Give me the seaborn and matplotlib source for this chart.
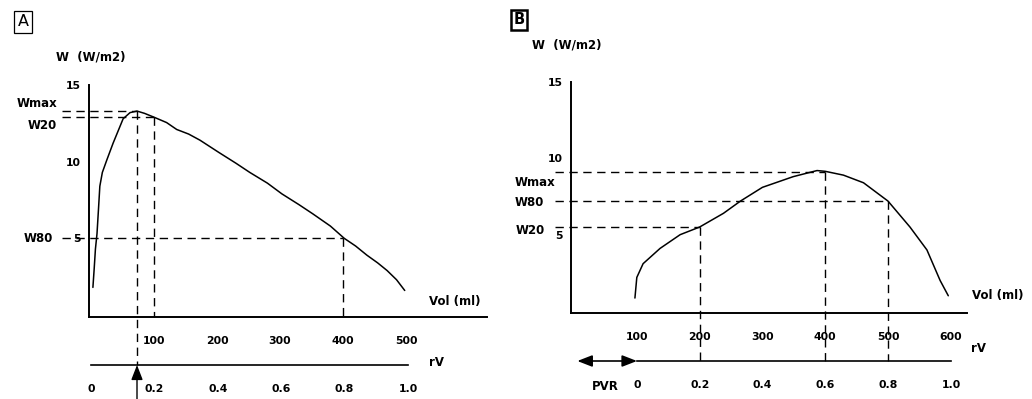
import numpy as np
import pandas as pd
import seaborn as sns
import matplotlib.pyplot as plt

sns.set_style("white")
plt.rcParams['font.family'] = ['DejaVu Sans']
plt.rcParams['text.color'] = 'black'
plt.rcParams['xtick.color'] = 'black'
plt.rcParams['ytick.color'] = 'black'
plt.rcParams['xtick.labelcolor'] = 'black'
plt.rcParams['ytick.labelcolor'] = 'black'

# ---------------- data ----------------
# Panel A : work W (W/m2) vs volume (ml)
vol_a = [3, 5, 7, 9.5, 12, 14, 18, 25, 35, 51, 62, 73, 85, 100, 120, 136, 155,
         173, 203, 230, 252, 280, 303, 330, 352, 380, 402, 420, 438, 455, 470, 485, 498]
w_a = [1.8, 3.0, 4.3, 5.3, 7.0, 8.4, 9.3, 10.1, 11.2, 12.8, 13.2, 13.3, 13.15, 12.9,
       12.55, 12.1, 11.8, 11.4, 10.6, 9.9, 9.3, 8.6, 7.9, 7.2, 6.6, 5.8, 5.0, 4.5,
       3.9, 3.4, 2.9, 2.3, 1.6]
# reference points A
refA_vol = [73, 100, 400]          # Wmax, W20, W80 volumes
refA_w = [13.3, 12.9, 5.0]
refA_lab = ["Wmax", "W20", "W80"]
vticks_a = [100, 200, 300, 400, 500, 600]
vlabels_a = ["100", "200", "300", "400", "500", ""]

# Panel B
vol_b = [97, 100, 110, 137, 169, 200, 238, 265, 300, 349, 387, 400, 429, 461,
         500, 535, 562, 583, 596]
w_b = [0.85, 2.2, 3.1, 4.1, 5.0, 5.5, 6.4, 7.2, 8.1, 8.8, 9.2, 9.15, 8.9, 8.4,
       7.2, 5.5, 4.0, 2.0, 1.0]
refB_vol = [400, 500, 200]         # Wmax, W80, W20
refB_w = [9.1, 7.2, 5.5]
refB_lab = ["Wmax", "W80", "W20"]
vticks_b = [100, 200, 300, 400, 500, 600]

rv_ticks = [0, 0.2, 0.4, 0.6, 0.8, 1.0]
rv_labels = ["0", "0.2", "0.4", "0.6", "0.8", "1.0"]
yticks = [5, 10, 15]

# ---------------- layout ----------------
W, H = 1032, 399
fig = plt.figure(figsize=(W / 100, H / 100), dpi=100)


def px_ax(l, t, r, b):
    return fig.add_axes([l / W, 1 - b / H, (r - l) / W, (b - t) / H])


LW = 1.1
AXLW = 1.4
DASH = (6, 4)
TF = dict(fontsize=7.8, fontweight="bold")
LF = dict(fontsize=8.5, fontweight="bold")


def style_main(ax, xlim, xt, xl):
    ax.set_xlim(*xlim)
    ax.set_ylim(-0.13, 15)
    for s in ["top", "right"]:
        ax.spines[s].set_visible(False)
    for s in ["left", "bottom"]:
        ax.spines[s].set_linewidth(AXLW)
        ax.spines[s].set_color("black")
    ax.set_xticks(xt)
    ax.set_xticklabels(xl, **TF)
    ax.set_yticks(yticks)
    ax.set_yticklabels([str(v) for v in yticks], **TF)
    ax.tick_params(axis="x", direction="out", length=4, width=1.2, pad=10)
    ax.tick_params(axis="y", direction="out", length=3, width=1.0, pad=3)
    ax.set_xlabel("")
    ax.set_ylabel("")
    ax.patch.set_alpha(0)


def style_rv(ax):
    ax.set_xlim(0, 1)
    ax.set_ylim(0, 1)
    for s in ["top", "right", "left"]:
        ax.spines[s].set_visible(False)
    ax.spines["bottom"].set_linewidth(1.2)
    ax.spines["bottom"].set_color("black")
    ax.set_yticks([])
    ax.set_xticks(rv_ticks)
    ax.set_xticklabels(rv_labels, **TF)
    ax.tick_params(axis="x", direction="inout", length=8, width=1.2, pad=10)
    ax.patch.set_alpha(0)


# ======== Panel A ========
axA = px_ax(89, 85, 487, 317)
sns.lineplot(x=vol_a, y=w_a, ax=axA, color="black", lw=LW, sort=False, estimator=None)
style_main(axA, (-3.2, 628.6), vticks_a, vlabels_a)

y_rvA = -3.26
for v, w, lab in zip(refA_vol, refA_w, refA_lab):
    axA.plot([-46, v], [w, w], color="black", lw=1.0, dashes=DASH, clip_on=False)
    ybot = y_rvA if lab == "Wmax" else -0.13
    axA.plot([v, v], [w, ybot], color="black", lw=1.0, dashes=DASH, clip_on=False)

axA.text(-54, 13.8, "Wmax", ha="right", va="center", **LF)
axA.text(-54, 12.35, "W20", ha="right", va="center", **LF)
axA.text(-60, 4.96, "W80", ha="right", va="center", **LF)
axA.text(578, 0.85, "Vol (ml)", ha="center", va="center", **LF)
axA.annotate("", xy=(refA_vol[0], y_rvA), xytext=(refA_vol[0], -5.6),
             arrowprops=dict(arrowstyle="-|>,head_length=0.9,head_width=0.35",
                             color="black", lw=1.0, shrinkA=0, shrinkB=0),
             annotation_clip=False)

rvA = px_ax(91, 345, 408, 365)
style_rv(rvA)
fig.text(437 / W, 1 - 363 / H, "rV", ha="center", va="center", **LF)

fig.text(23 / W, 1 - 22 / H, "A", ha="center", va="center", fontsize=11.5,
         bbox=dict(boxstyle="square,pad=0.22", fc="white", ec="black", lw=0.9))
fig.text(91 / W, 1 - 57 / H, "W  (W/m2)", ha="center", va="center", **LF)

# ======== Panel B ========
axB = px_ax(571, 82, 967, 313)
sns.lineplot(x=vol_b, y=w_b, ax=axB, color="black", lw=LW, sort=False, estimator=None)
style_main(axB, (-4.8, 625.8), vticks_b, [str(v) for v in vticks_b])

y_rvB = -3.27
for v, w, lab in zip(refB_vol, refB_w, refB_lab):
    axB.plot([-30, v], [w, w], color="black", lw=1.0, dashes=DASH, clip_on=False)
    axB.plot([v, v], [w, y_rvB], color="black", lw=1.0, dashes=DASH, clip_on=False)

axB.text(-30, 8.45, "Wmax", ha="right", va="center", **LF)
axB.text(-48, 7.14, "W80", ha="right", va="center", **LF)
axB.text(-46, 5.3, "W20", ha="right", va="center", **LF)
axB.text(675, 1.0, "Vol (ml)", ha="center", va="center", **LF)

rvB = px_ax(637, 341, 951, 361)
style_rv(rvB)
rvB.annotate("", xy=(-0.19, 0), xytext=(0, 0),
             arrowprops=dict(arrowstyle="<|-|>,head_length=0.9,head_width=0.35",
                             color="black", lw=1.2, shrinkA=0, shrinkB=0),
             annotation_clip=False)
rvB.text(-0.10, -1.3, "PVR", ha="center", va="center", **LF)
fig.text(979 / W, 1 - 348 / H, "rV", ha="center", va="center", **LF)

fig.text(519 / W, 1 - 20 / H, "B", ha="center", va="center", fontsize=10.5, fontweight="bold",
         bbox=dict(boxstyle="square,pad=0.2", fc="white", ec="black", lw=1.8))
fig.text(567 / W, 1 - 45 / H, "W  (W/m2)", ha="center", va="center", **LF)

fig.savefig("out.png", dpi=100, facecolor="white")
